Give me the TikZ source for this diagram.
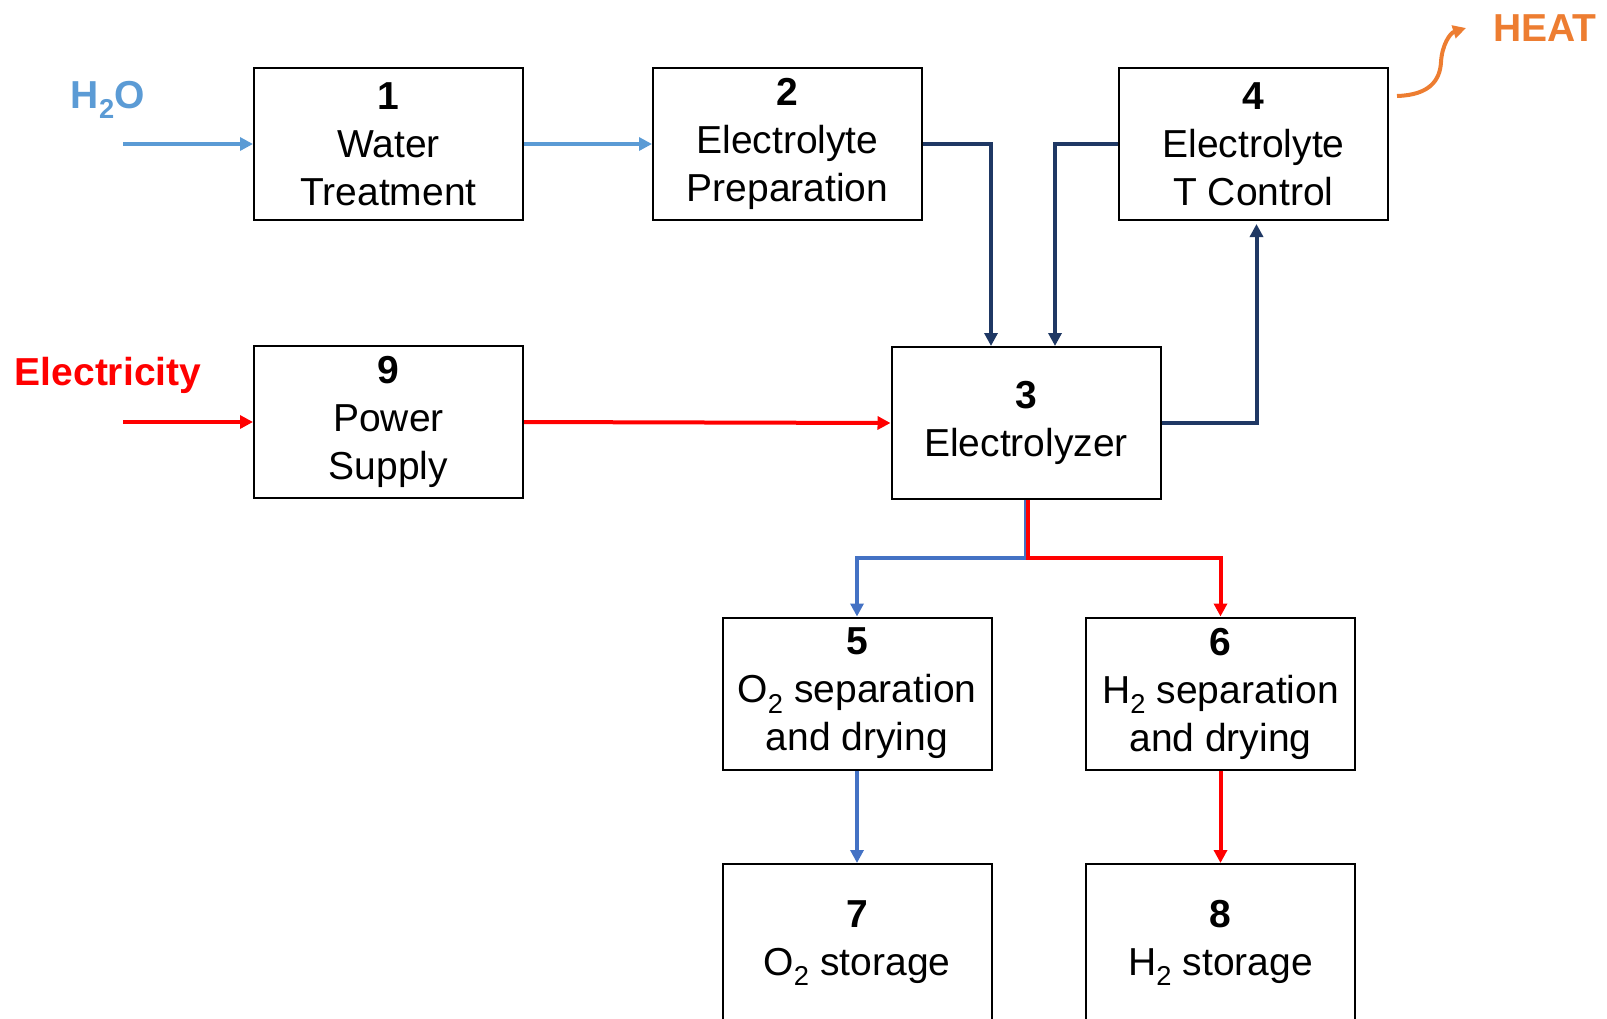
\documentclass[tikz,border=0pt]{standalone}
\usepackage{fontspec}
\setmainfont{Liberation Sans}
\usetikzlibrary{arrows.meta}
\definecolor{lblue}{HTML}{5B9BD5}
\definecolor{mblue}{HTML}{4472C4}
\definecolor{navy}{HTML}{1F3864}
\definecolor{hred}{HTML}{FF0000}
\definecolor{horange}{HTML}{ED7D31}
\begin{document}
\begin{tikzpicture}[x=1pt,y=-1pt,
  box/.style={draw=black, line width=2pt, minimum width=269pt, minimum height=152pt, align=center, inner sep=0pt, font=\fontsize{39}{48}\selectfont},
  tallbox/.style={box, minimum height=158pt},
  flow/.style={line width=4pt, -{Triangle[length=13pt,width=13pt]}},
  lbl/.style={font=\fontsize{39}{48}\selectfont\bfseries, inner sep=0pt}]
\useasboundingbox (0,0) rectangle (1607,1018);
\clip (0,0) rectangle (1607,1018);
\node[box] (b1) at (388.5,144) {\textbf{1}\\Water\\Treatment};
\node[box] (b2) at (787.5,144) {\textbf{2}\\Electrolyte\\Preparation};
\node[box] (b4) at (1253.5,144) {\textbf{4}\\Electrolyte\\T Control};
\node[box] (b9) at (388.5,422) {\textbf{9}\\Power\\Supply};
\node[box] (b3) at (1026,423) {\textbf{3}\\Electrolyzer};
\node[box] (b5) at (857,693.5) {\textbf{5}\\O\textsubscript{2} separation\\and drying};
\node[box] (b6) at (1220.5,693.5) {\textbf{6}\\H\textsubscript{2} separation\\and drying};
\node[tallbox] (b7) at (857,943) {\textbf{7}\\O\textsubscript{2} storage};
\node[tallbox] (b8) at (1220.5,943) {\textbf{8}\\H\textsubscript{2} storage};
\node[lbl, text=lblue] (h2o) at (108,100) {H\textsubscript{2}O};
\node[lbl, text=hred] (elec) at (108,375) {Electricity};
\node[lbl, text=horange] (heat) at (1545,28) {HEAT};
\coordinate (h2oin) at (123,144);
\coordinate (elin) at (123,422);
\coordinate (sp) at (1026,558);
\coordinate (hs) at (1397,96);
\coordinate (he) at (1466,28);
% flows
\draw[flow, lblue] (h2oin) -- (b1.west);
\draw[flow, lblue] (b1.east) -- (b2.west);
\draw[flow, hred] (elin) -- (b9.west);
\draw[flow, hred] (b9.east) -- (b3.west);
\draw[flow, navy] (b2.east) -| ([xshift=-35pt]b3.north);
\draw[flow, navy] (b4.west) -| ([xshift=29pt]b3.north);
\draw[flow, navy, shorten >=3pt] (b3.east) -| ([xshift=3pt]b4.south);
\draw[flow, mblue] (b3.south) -- (sp) -| (b5.north);
\draw[flow, hred] ([xshift=1.5pt]b3.south) -- ([xshift=1.5pt]sp) -| (b6.north);
\draw[flow, mblue] (b5.south) -- (b7.north);
\draw[flow, hred] (b6.south) -- (b8.north);
\draw[flow, horange] (hs) .. controls (1430,95) and (1440,80) .. (1441,62) .. controls (1442,45) and (1450,33) .. (he);
\end{tikzpicture}
\end{document}
